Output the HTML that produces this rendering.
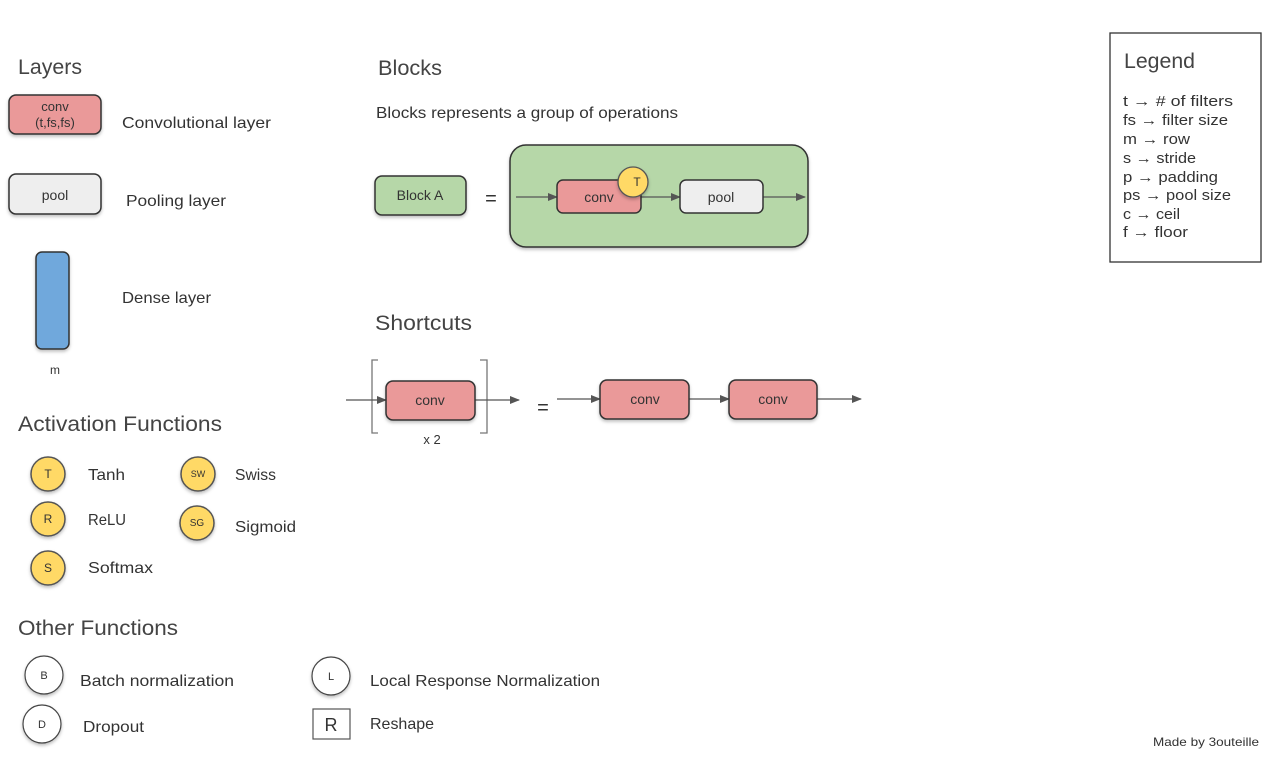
<!DOCTYPE html>
<html><head><meta charset="utf-8"><style>
html,body{margin:0;padding:0;background:#fff;}
svg{display:block;font-family:"Liberation Sans",sans-serif;}
</style></head><body>
<svg width="1278" height="761" viewBox="0 0 1278 761" xmlns="http://www.w3.org/2000/svg">
<defs>
<marker id="ar" viewBox="0 0 10 10" refX="9" refY="5" markerWidth="10" markerHeight="10" markerUnits="userSpaceOnUse" orient="auto"><path d="M0,1 L10,5 L0,9 z" fill="#555"/></marker>
<filter id="sh" x="-20%" y="-20%" width="140%" height="150%"><feDropShadow dx="0" dy="2" stdDeviation="1.5" flood-color="#000" flood-opacity="0.25"/></filter>
</defs>
<g fill="#333">
<!-- Layers -->
<text x="18" y="74" font-size="21" fill="#444" textLength="64" lengthAdjust="spacingAndGlyphs">Layers</text>
<rect x="9" y="95" width="92" height="39" rx="7" fill="#ea9999" stroke="#333" stroke-width="1.5" filter="url(#sh)"/>
<text x="55" y="111" font-size="13" text-anchor="middle">conv</text>
<text x="55" y="127" font-size="13" text-anchor="middle">(t,fs,fs)</text>
<text x="122" y="128" font-size="16" textLength="149" lengthAdjust="spacingAndGlyphs">Convolutional layer</text>
<rect x="9" y="174" width="92" height="40" rx="7" fill="#eeeeee" stroke="#333" stroke-width="1.5" filter="url(#sh)"/>
<text x="55" y="200" font-size="14" text-anchor="middle">pool</text>
<text x="126" y="206" font-size="16" textLength="100" lengthAdjust="spacingAndGlyphs">Pooling layer</text>
<rect x="36" y="252" width="33" height="97" rx="6" fill="#6fa8dc" stroke="#333" stroke-width="1.5" filter="url(#sh)"/>
<text x="55" y="374" font-size="12" text-anchor="middle">m</text>
<text x="122" y="303" font-size="16" textLength="89" lengthAdjust="spacingAndGlyphs">Dense layer</text>

<!-- Activation -->
<text x="18" y="431" font-size="21" fill="#444" textLength="204" lengthAdjust="spacingAndGlyphs">Activation Functions</text>
<g stroke="#555" stroke-width="1.5" fill="#ffd966" filter="url(#sh)">
<circle cx="48" cy="474" r="17"/><circle cx="48" cy="519" r="17"/><circle cx="48" cy="568" r="17"/>
<circle cx="198" cy="474" r="17"/><circle cx="197" cy="523" r="17"/>
</g>
<g font-size="12" text-anchor="middle">
<text x="48" y="478">T</text><text x="48" y="523">R</text><text x="48" y="572">S</text>
<text x="198" y="477" font-size="9">SW</text><text x="197" y="526" font-size="10">SG</text>
</g>
<g font-size="16">
<text x="88" y="480" textLength="37" lengthAdjust="spacingAndGlyphs">Tanh</text>
<text x="88" y="525" textLength="38" lengthAdjust="spacingAndGlyphs">ReLU</text>
<text x="88" y="573" textLength="65" lengthAdjust="spacingAndGlyphs">Softmax</text>
<text x="235" y="480" textLength="41" lengthAdjust="spacingAndGlyphs">Swiss</text>
<text x="235" y="532" textLength="61" lengthAdjust="spacingAndGlyphs">Sigmoid</text>
</g>

<!-- Other -->
<text x="18" y="635" font-size="21" fill="#444" textLength="160" lengthAdjust="spacingAndGlyphs">Other Functions</text>
<g stroke="#444" stroke-width="1.2" fill="#fff" filter="url(#sh)">
<circle cx="44" cy="675" r="19"/><circle cx="42" cy="724" r="19"/><circle cx="331" cy="676" r="19"/>
</g>
<rect x="313" y="709" width="37" height="30" fill="#fff" stroke="#555" stroke-width="1.2"/>
<g font-size="11" text-anchor="middle">
<text x="44" y="679">B</text><text x="42" y="728">D</text><text x="331" y="680">L</text>
</g>
<text x="331" y="731" font-size="18" text-anchor="middle">R</text>
<g font-size="16">
<text x="80" y="686" textLength="154" lengthAdjust="spacingAndGlyphs">Batch normalization</text>
<text x="83" y="732" textLength="61" lengthAdjust="spacingAndGlyphs">Dropout</text>
<text x="370" y="686" textLength="230" lengthAdjust="spacingAndGlyphs">Local Response Normalization</text>
<text x="370" y="729" textLength="64" lengthAdjust="spacingAndGlyphs">Reshape</text>
</g>

<!-- Blocks -->
<text x="378" y="75" font-size="21" fill="#444" textLength="64" lengthAdjust="spacingAndGlyphs">Blocks</text>
<text x="376" y="118" font-size="16" textLength="302" lengthAdjust="spacingAndGlyphs">Blocks represents a group of operations</text>
<rect x="375" y="176" width="91" height="39" rx="7" fill="#b6d7a8" stroke="#333" stroke-width="1.5" filter="url(#sh)"/>
<text x="420" y="200" font-size="14" text-anchor="middle">Block A</text>
<text x="491" y="205" font-size="20" text-anchor="middle">=</text>
<rect x="510" y="145" width="298" height="102" rx="16" fill="#b6d7a8" stroke="#333" stroke-width="1.5" filter="url(#sh)"/>
<g stroke="#555" stroke-width="1.3" fill="none" marker-end="url(#ar)">
<line x1="516" y1="197" x2="557" y2="197"/><line x1="641" y1="197" x2="680" y2="197"/><line x1="763" y1="197" x2="805" y2="197"/>
</g>
<rect x="557" y="180" width="84" height="33" rx="6" fill="#ea9999" stroke="#333" stroke-width="1.5"/>
<text x="599" y="202" font-size="14" text-anchor="middle">conv</text>
<rect x="680" y="180" width="83" height="33" rx="6" fill="#eeeeee" stroke="#333" stroke-width="1.5"/>
<text x="721" y="202" font-size="14" text-anchor="middle">pool</text>
<circle cx="633" cy="182" r="15" fill="#ffd966" stroke="#555" stroke-width="1.3" filter="url(#sh)"/>
<text x="637" y="186" font-size="12" text-anchor="middle">T</text>

<!-- Shortcuts -->
<text x="375" y="330" font-size="21" fill="#444" textLength="97" lengthAdjust="spacingAndGlyphs">Shortcuts</text>
<path d="M378,360 H372 V433 H378 M480,360 H487 V433 H480" fill="none" stroke="#777" stroke-width="1.3"/>
<g stroke="#555" stroke-width="1.3" fill="none" marker-end="url(#ar)">
<line x1="346" y1="400" x2="386" y2="400"/><line x1="475" y1="400" x2="519" y2="400"/>
<line x1="557" y1="399" x2="600" y2="399"/><line x1="689" y1="399" x2="729" y2="399"/><line x1="817" y1="399" x2="861" y2="399"/>
</g>
<g fill="#ea9999" stroke="#333" stroke-width="1.5" filter="url(#sh)">
<rect x="386" y="381" width="89" height="39" rx="7"/>
<rect x="600" y="380" width="89" height="39" rx="7"/>
<rect x="729" y="380" width="88" height="39" rx="7"/>
</g>
<g font-size="14" text-anchor="middle">
<text x="430" y="405">conv</text><text x="645" y="404">conv</text><text x="773" y="404">conv</text>
</g>
<text x="432" y="444" font-size="13" text-anchor="middle">x 2</text>
<text x="543" y="414" font-size="20" text-anchor="middle">=</text>

<!-- Legend -->
<rect x="1110" y="33" width="151" height="229" fill="#fff" stroke="#333" stroke-width="1.3"/>
<text x="1124" y="68" font-size="21" fill="#444" textLength="71" lengthAdjust="spacingAndGlyphs">Legend</text>
<g font-size="15">
<text x="1123" y="106" textLength="110" lengthAdjust="spacingAndGlyphs">t → # of filters</text>
<text x="1123" y="125" textLength="105" lengthAdjust="spacingAndGlyphs">fs → filter size</text>
<text x="1123" y="144" textLength="67" lengthAdjust="spacingAndGlyphs">m → row</text>
<text x="1123" y="163" textLength="73" lengthAdjust="spacingAndGlyphs">s → stride</text>
<text x="1123" y="182" textLength="95" lengthAdjust="spacingAndGlyphs">p → padding</text>
<text x="1123" y="200" textLength="108" lengthAdjust="spacingAndGlyphs">ps → pool size</text>
<text x="1123" y="219" textLength="57" lengthAdjust="spacingAndGlyphs">c → ceil</text>
<text x="1123" y="237" textLength="65" lengthAdjust="spacingAndGlyphs">f → floor</text>
</g>
<text x="1153" y="746" font-size="12" textLength="106" lengthAdjust="spacingAndGlyphs">Made by 3outeille</text>
</g>
</svg>
</body></html>
